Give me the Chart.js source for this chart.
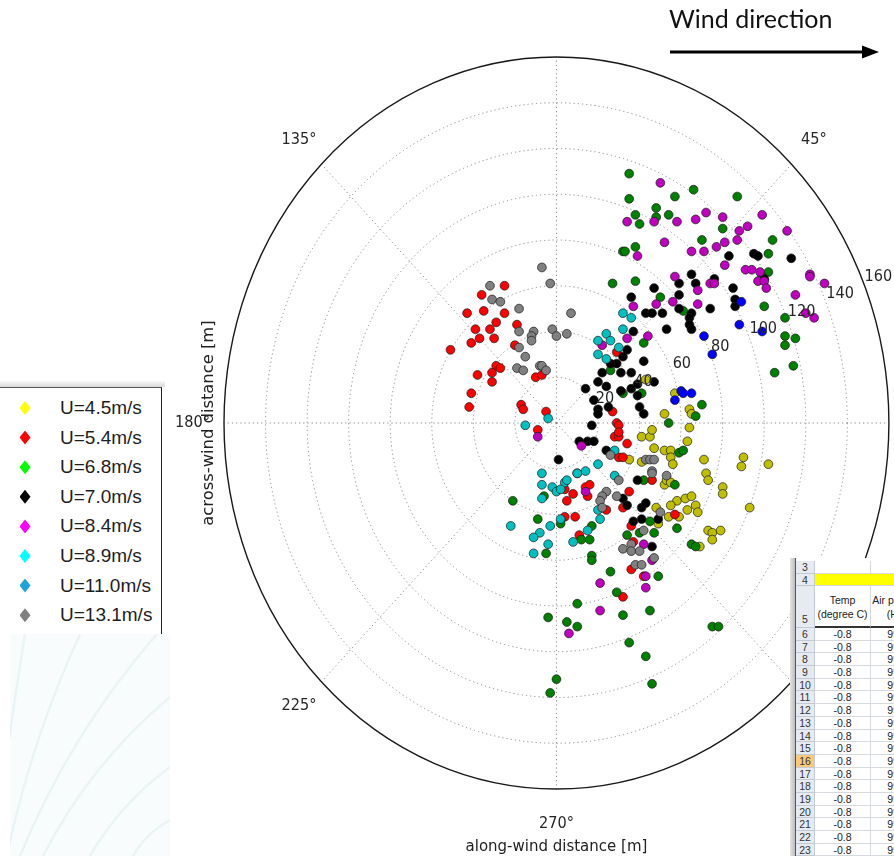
<!DOCTYPE html>
<html>
<head>
<meta charset="utf-8">
<title>Plume positions by wind speed</title>
<script src="https://cdn.jsdelivr.net/npm/chart.js@4.4.1/dist/chart.umd.min.js"></script>
<style>
  html, body { margin: 0; padding: 0; background: #fff; }
  body { position: relative; width: 894px; height: 856px; overflow: hidden; }
  #polar { position: absolute; left: 0; top: 0; }
  #windText { position: absolute; left: 669px; top: 3px; font: 25px Lato, "Open Sans", sans-serif; color: #111; white-space: nowrap; }
  #arrow { position: absolute; left: 660px; top: 40px; }
  #legendShade { position: absolute; left: 0; top: 380px; width: 165px; height: 7px; background: linear-gradient(#fff, #d9d9d9); }
  #legendBox { position: absolute; left: -2px; top: 387px; width: 163px; height: 246px; background: #fff; border-top: 1.5px solid #555; border-right: 1.5px solid #222; }
  .item { position: absolute; left: 60px; height: 22px; line-height: 22px; font: 19px "Liberation Sans", Arial, sans-serif; color: #1e1e1e; white-space: nowrap; }
  .dia { position: absolute; left: 19.5px; width: 11px; height: 14px; clip-path: polygon(50% 0, 100% 50%, 50% 100%, 0 50%); }
  #photo { position: absolute; left: 10px; top: 634px; width: 160px; height: 222px; background: #f9fcfc; }
  #sheet { position: absolute; left: 790px; top: 558px; width: 110px; height: 300px; background: #fff; overflow: hidden; }
  .cell { position: absolute; box-sizing: border-box; font: 10.5px "Liberation Sans", Arial, sans-serif; color: #222; text-align: center; overflow: hidden; white-space: nowrap; border-right: 1px solid #d6d9de; border-bottom: 1px solid #d6d9de; }
  .hdr { background: #e6ebf2; border-color: #c3cad6; color: #333; }
</style>
</head>
<body>
<canvas id="polar" width="894" height="856"></canvas>

<div id="windText">Wind direction</div>
<svg id="arrow" width="234" height="26">
  <line x1="10" y1="12" x2="205" y2="12" stroke="#000" stroke-width="3"/>
  <polygon points="202,5.5 219,12 202,18.5" fill="#000"/>
</svg>

<div id="legendShade"></div>
<div id="legendBox"></div>

<div id="photo">
  <svg width="160" height="222">
    <g fill="none" stroke="#ebf4f4" stroke-width="2.5">
      <path d="M15 0 Q2 80 -7 153"/>
      <path d="M70 0 Q20 110 -3 222"/>
      <path d="M147 0 Q60 100 10 222"/>
      <path d="M160 63 Q80 130 33 222"/>
      <path d="M160 133 Q110 170 80 222"/>
      <path d="M160 186 Q135 200 123 222"/>
    </g>
  </svg>
</div>

<div id="sheet"></div>

<script>
// along-wind (x) and across-wind (y) distance in metres, one array per wind speed
const speedLabels = ['U=4.5m/s', 'U=5.4m/s', 'U=6.8m/s', 'U=7.0m/s', 'U=8.4m/s', 'U=8.9m/s', 'U=11.0m/s', 'U=13.1m/s'];
const ringTicks = [20, 40, 60, 80, 100, 120, 140, 160];
const angleTicks = [0, 45, 135, 180, 225, 270, 315];

const u45 = [[43,19],[57,13],[52,4],[64,6],[65,4],[64,-2],[41,-6],[45,-6],[46,-3],[63,-8],[47,-11],[52,-12],[55,-12],[55,-15],[56,-18],[71,-16],[90,-15],[89,-19],[102,-18],[35,-16],[41,-17],[52,-27],[53,-25],[55,-26],[72,-22],[73,-25],[80,-28],[80,-31],[58,-34],[55,-36],[62,-33],[65,-32],[63,-38],[67,-36],[68,-39],[93,-37],[48,-37],[54,-41],[59,-41],[49,-44],[73,-47],[75,-48],[79,-47],[75,-51],[69,-54]];
const u54 = [[-25,60],[-36,56],[-43,48],[-35,49],[-25,48],[-29,44],[-39,41],[-32,41],[-19,43],[-37,37],[-41,35],[-30,37],[-51,32],[-20,34],[-29,25],[-27,24],[-38,21],[-31,22],[-31,18],[-10,20],[-7,21],[-41,13],[-42,7],[-17,8],[-16,6],[-5,5],[-9,-3],[29,31],[27,5],[29,0],[30,-1],[28,-6],[30,-6],[30,-4],[34,-9],[30,-15],[32,-15],[46,-25],[35,-30],[32,-37],[57,-40],[36,-45],[37,-52],[36,-64],[42,-67],[32,-76],[10,-22],[4,-29],[8,-31],[5,-34],[14,-28],[16,-27],[15,-32],[24,-38],[4,-41],[9,-41],[11,-49]];
const u68 = [[35,109],[35,98],[66,102],[57,99],[87,99],[48,94],[38,91],[54,91],[40,87],[48,90],[80,85],[70,80],[104,80],[32,75],[33,75],[38,77],[102,74],[27,61],[38,62],[102,66],[99,64],[50,55],[100,51],[110,46],[110,38],[110,34],[115,37],[105,22],[114,25],[61,49],[42,35],[26,23],[32,13],[41,13],[54,0],[70,8],[67,3],[59,-13],[61,-12],[57,-27],[42,-25],[45,-43],[40,-48],[34,-49],[58,-46],[65,-53],[67,-54],[47,-48],[49,-67],[29,-74],[32,-84],[45,-82],[35,-96],[43,-102],[46,-114],[75,-89],[78,-89],[-6,-32],[-21,-34],[-9,-42],[2,-44],[-5,-57],[12,-51],[17,-45],[16,-51],[17,-58],[17,-60],[26,-65],[10,-79],[-4,-85],[5,-87],[10,-89],[0,-112],[-3,-118]];
const u70 = [[83,73],[95,74],[97,73],[113,72],[65,65],[59,61],[67,61],[76,63],[85,59],[47,59],[59,56],[36,55],[100,63],[86,54],[86,51],[74,50],[59,50],[43,48],[46,48],[51,48],[65,48],[64,46],[64,43],[65,41],[53,41],[42,27],[37,40],[34,32],[32,29],[29,26],[26,26],[22,22],[31,22],[36,22],[20,18],[14,15],[24,16],[31,14],[36,15],[39,17],[39,12],[18,10],[20,6],[25,7],[40,7],[42,4],[20,4],[17,-1],[11,-8],[15,-8],[18,-8],[47,18],[1,-16],[24,-12],[39,-25],[32,-33],[34,-36],[41,-37],[43,-35],[37,-43],[41,-42],[49,-42],[46,-54]];
const u84 = [[50,105],[72,92],[80,90],[99,91],[34,88],[47,88],[58,88],[67,89],[92,86],[88,84],[111,84],[52,79],[81,79],[87,80],[77,77],[65,75],[71,75],[39,73],[81,69],[91,67],[94,67],[98,66],[97,62],[100,62],[101,59],[122,65],[122,64],[129,61],[115,56],[57,64],[74,61],[76,61],[68,58],[120,48],[124,46],[68,52],[56,53],[48,52],[44,38],[37,51],[34,37],[22,34],[12,-10],[-9,-6],[42,-53],[46,-60],[43,-67],[43,-72],[14,-30],[21,-70],[21,-82],[6,-92]];
const u89 = [[-4,2],[-15,-1],[32,48],[36,46],[32,41],[24,39],[20,36],[26,36],[30,33],[20,30],[24,28],[28,-12],[20,-18],[14,-21],[10,-22],[28,-23],[-7,-22],[-7,-27],[-2,-28],[0,-30],[4,-26],[5,-25],[2,-29],[-7,-33],[20,-38],[-3,-45],[2,-42],[21,-42],[-22,-45],[-8,-48],[-11,-50],[-4,-53],[-11,-57],[8,-52],[15,-47]];
const u110 = [[89,53],[88,43],[99,40],[71,38],[75,30],[60,14],[61,13],[65,13],[57,10]];
const u131 = [[-7,68],[-3,61],[-32,60],[-31,54],[-27,53],[-18,50],[7,48],[-18,40],[-11,40],[-12,38],[-12,36],[-2,41],[0,38],[5,39],[-18,33],[-15,29],[-19,24],[-16,23],[-8,25],[-7,25],[-5,23],[26,-14],[24,-30],[29,-32],[22,-32],[21,-34],[22,-37],[43,-16],[45,-16],[47,-16],[46,-21],[46,-22],[53,-23],[30,-25],[50,-39],[42,-47],[32,-55],[36,-53],[36,-56],[40,-56],[47,-59],[38,-62],[41,-62]];

const seriesData = [u45, u54, u68, u70, u84, u89, u110, u131];
const markerColors = ['#bfbf00', '#ff0000', '#008000', '#000000', '#bf00bf', '#00bfbf', '#0000ff', '#808080'];
const legendColors = ['#ffff00', '#ff0000', '#00ff00', '#000000', '#ff00ff', '#00ffff', '#1ea2dc', '#808080'];

// spreadsheet snippet in the corner
const sheetRowNums = [3, 4, 5, 6, 7, 8, 9, 10, 11, 12, 13, 14, 15, 16, 17, 18, 19, 20, 21, 22, 23];
const sheetTemp = ['-0.8', '-0.8', '-0.8', '-0.8', '-0.8', '-0.8', '-0.8', '-0.8', '-0.8', '-0.8', '-0.8', '-0.8', '-0.8', '-0.8', '-0.8', '-0.8', '-0.8', '-0.8'];
const sheetPress = ['993.1', '993.1', '993.1', '993.1', '993.1', '993.1', '993.1', '993.1', '993.1', '993.1', '993.1', '993.1', '993.1', '993.1', '993.1', '993.1', '993.1', '993.1'];

const rMax = ringTicks[ringTicks.length - 1];
const yStretch = 1.09;
const tickFont = '14.5px "DejaVu Sans", sans-serif';
const titleFont = '15px "DejaVu Sans", sans-serif';

function stretchedText(ctx, str, px, py, rot) {
    ctx.save();
    ctx.translate(px, py);
    ctx.scale(1, yStretch);
    if (rot) ctx.rotate(rot);
    ctx.fillText(str, 0, 0);
    ctx.restore();
}

const polarFrame = {
    id: 'polarFrame',
    beforeDatasetsDraw(chart) {
        const { ctx, scales: { x, y } } = chart;
        const cx = x.getPixelForValue(0);
        const cy = y.getPixelForValue(0);
        ctx.save();
        ctx.strokeStyle = '#8a8a8a';
        ctx.lineWidth = 1;
        ctx.setLineDash([1.2, 3]);
        ringTicks.slice(0, -1).forEach(r => {
            ctx.beginPath();
            ctx.ellipse(cx, cy, x.getPixelForValue(r) - cx, cy - y.getPixelForValue(r), 0, 0, Math.PI * 2);
            ctx.stroke();
        });
        for (let a = 0; a < 360; a += 45) {
            const t = a * Math.PI / 180;
            ctx.beginPath();
            ctx.moveTo(cx, cy);
            ctx.lineTo(x.getPixelForValue(rMax * Math.cos(t)), y.getPixelForValue(rMax * Math.sin(t)));
            ctx.stroke();
        }
        ctx.setLineDash([]);
        ctx.strokeStyle = '#1a1a1a';
        ctx.lineWidth = 1.4;
        ctx.beginPath();
        ctx.ellipse(cx, cy, x.getPixelForValue(rMax) - cx, cy - y.getPixelForValue(rMax), 0, 0, Math.PI * 2);
        ctx.stroke();
        ctx.restore();
    },
    afterDatasetsDraw(chart) {
        const { ctx, scales: { x, y } } = chart;
        ctx.save();
        ctx.fillStyle = '#262626';
        ctx.font = tickFont;

        // radial tick labels along 22.5 degrees
        const t = 22.5 * Math.PI / 180;
        ctx.textAlign = 'left';
        ctx.textBaseline = 'alphabetic';
        ringTicks.forEach(r => {
            stretchedText(ctx, String(r), x.getPixelForValue(r * Math.cos(t)) + 1, y.getPixelForValue(r * Math.sin(t)) - 2);
        });

        // angle labels outside the rim
        ctx.textAlign = 'center';
        ctx.textBaseline = 'middle';
        angleTicks.forEach(a => {
            const ta = a * Math.PI / 180;
            const rl = rMax * 1.095;
            stretchedText(ctx, a + '\u00b0', x.getPixelForValue(rl * Math.cos(ta)), y.getPixelForValue(rl * Math.sin(ta)));
        });

        ctx.font = titleFont;
        ctx.fillStyle = '#222';
        ctx.textBaseline = 'alphabetic';
        stretchedText(ctx, 'along-wind distance [m]', x.getPixelForValue(0), 851);
        ctx.textBaseline = 'middle';
        stretchedText(ctx, 'across-wind distance [m]', 209, y.getPixelForValue(0), -Math.PI / 2);
        ctx.restore();
    }
};

new Chart(document.getElementById('polar'), {
    type: 'scatter',
    data: {
        datasets: seriesData.map((pts, i) => ({
            label: speedLabels[i],
            data: pts.map(p => ({ x: p[0], y: p[1] })),
            pointBackgroundColor: markerColors[i],
            pointBorderColor: '#1a1a1a',
            pointBorderWidth: 0.7,
            pointRadius: 4.4,
            order: seriesData.length - i
        }))
    },
    options: {
        responsive: false,
        animation: false,
        events: [],
        layout: { padding: { left: 224, right: 0, top: 57, bottom: 67 } },
        scales: {
            x: { type: 'linear', min: -rMax, max: rMax, display: false },
            y: { type: 'linear', min: -rMax, max: rMax, display: false }
        },
        plugins: {
            legend: { display: false },
            tooltip: { enabled: false }
        }
    },
    plugins: [polarFrame]
});

// legend panel on the left
speedLabels.forEach((label, i) => {
    const mid = 408 + i * 29.6;
    const dia = document.createElement('span');
    dia.className = 'dia';
    dia.style.top = (mid - 7) + 'px';
    dia.style.background = legendColors[i];
    document.body.appendChild(dia);
    const item = document.createElement('div');
    item.className = 'item';
    item.style.top = (mid - 11) + 'px';
    item.textContent = label;
    document.body.appendChild(item);
});

// spreadsheet corner
const sheet = document.getElementById('sheet');
function addCell(left, top, w, h, html, cls, extra) {
    const d = document.createElement('div');
    d.className = 'cell ' + (cls || '');
    d.style.cssText = `left:${left}px;top:${top}px;width:${w}px;height:${h}px;line-height:${h}px;` + (extra || '');
    d.innerHTML = html;
    sheet.appendChild(d);
    return d;
}
const strip = document.createElement('div');
strip.style.cssText = 'position:absolute;left:0;top:0;width:5px;height:300px;background:linear-gradient(90deg,#e4e4e4,#bdbdbd);';
sheet.appendChild(strip);
const edge = document.createElement('div');
edge.style.cssText = 'position:absolute;left:5px;top:0;width:1px;height:300px;background:#555;';
sheet.appendChild(edge);

const colX = [6, 25, 81];
const colW = [19, 56, 60];
let rowTop = 3;
sheetRowNums.forEach((n, i) => {
    const h = n === 5 ? 42 : (n < 5 ? 12.5 : 12.69);
    const hdrExtra = n === 16 ? 'background:#f9c97c;' : '';
    addCell(colX[0], rowTop, colW[0], h, String(n), 'hdr', hdrExtra + (n === 5 ? 'line-height:normal;padding-top:27px;' : ''));
    if (n === 4) {
        addCell(colX[1], rowTop, colW[1] + colW[2], h, '', '', 'background:#ffff00;');
    } else if (n === 5) {
        addCell(colX[1], rowTop, colW[1], h, 'Temp<br>(degree C)', '', 'line-height:14px;padding-top:7px;border-bottom:2px solid #333;');
        addCell(colX[2], rowTop, colW[2], h, 'Air pressure<br>(HPa)', '', 'line-height:14px;padding-top:7px;border-bottom:2px solid #333;');
    } else if (n > 5) {
        addCell(colX[1], rowTop, colW[1], h, sheetTemp[n - 6]);
        addCell(colX[2], rowTop, colW[2], h, sheetPress[n - 6]);
    } else {
        addCell(colX[1], rowTop, colW[1], h, '');
        addCell(colX[2], rowTop, colW[2], h, '');
    }
    rowTop += h;
});
</script>
</body>
</html>
